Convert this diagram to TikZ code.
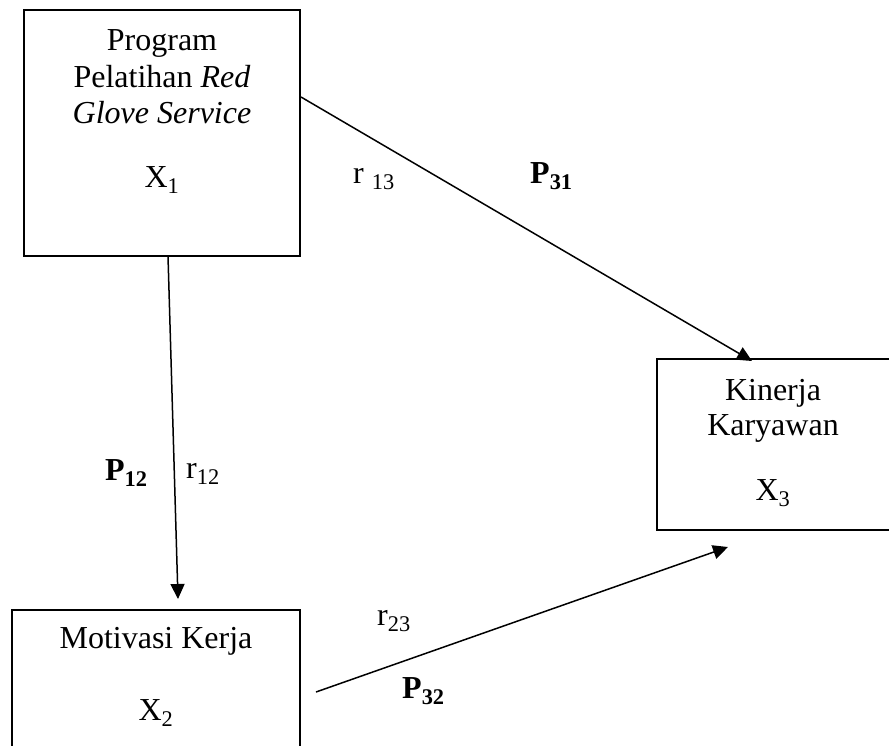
\documentclass[tikz,border=0pt]{standalone}
\usepackage{fontspec}
\setmainfont{Liberation Serif}
\usetikzlibrary{arrows.meta}
\begin{document}
\begin{tikzpicture}[x=1pt,y=-1pt,
  boxline/.style={line width=1.6pt},
  conn/.style={line width=1.5pt,-{Triangle[length=15pt,width=14pt]}},
  txt/.style={inner sep=0pt,anchor=base,font=\fontsize{32}{37}\selectfont},
  lbl/.style={inner sep=0pt,anchor=base west,font=\fontsize{32}{37}\selectfont}]
\useasboundingbox (0,0) rectangle (889,745);
\clip (0,0) rectangle (889,745);
% boxes
\draw[boxline] (24,10) rectangle (300,256);
\draw[boxline] (12,760) -- (12,610) -- (300,610) -- (300,760);
\draw[boxline] (900,359) -- (657,359) -- (657,530) -- (900,530);
% box texts
\node[txt] (t1a) at (162,50) {Program};
\node[txt] (t1b) at (162,87) {Pelatihan \textit{Red}};
\node[txt] (t1c) at (162,123) {\textit{Glove Service}};
\node[txt] (t1d) at (162,187) {X\textsubscript{1}};
\node[txt] (t2a) at (156,648) {Motivasi Kerja};
\node[txt] (t2b) at (156,720) {X\textsubscript{2}};
\node[txt] (t3a) at (773,400) {Kinerja};
\node[txt] (t3b) at (773,435) {Karyawan};
\node[txt] (t3c) at (773,500) {X\textsubscript{3}};
% connector end points
\coordinate (a1s) at (301,97);
\coordinate (a1e) at (752,361);
\coordinate (a2s) at (168,256);
\coordinate (a2e) at (178,599);
\coordinate (a3s) at (316,692);
\coordinate (a3e) at (728,547);
\draw[conn] (a1s) -- (a1e);
\draw[conn] (a2s) -- (a2e);
\draw[conn] (a3s) -- (a3e);
% labels
\node[lbl] (r13) at (353,183) {r \textsubscript{13}};
\node[lbl] (p31) at (530,183) {\textbf{P\textsubscript{31}}};
\node[lbl] (p12) at (105,480) {\textbf{P\textsubscript{12}}};
\node[lbl] (r12) at (186,478) {r\textsubscript{12}};
\node[lbl] (r23) at (377,625) {r\textsubscript{23}};
\node[lbl] (p32) at (402,698) {\textbf{P\textsubscript{32}}};
\end{tikzpicture}
\end{document}
